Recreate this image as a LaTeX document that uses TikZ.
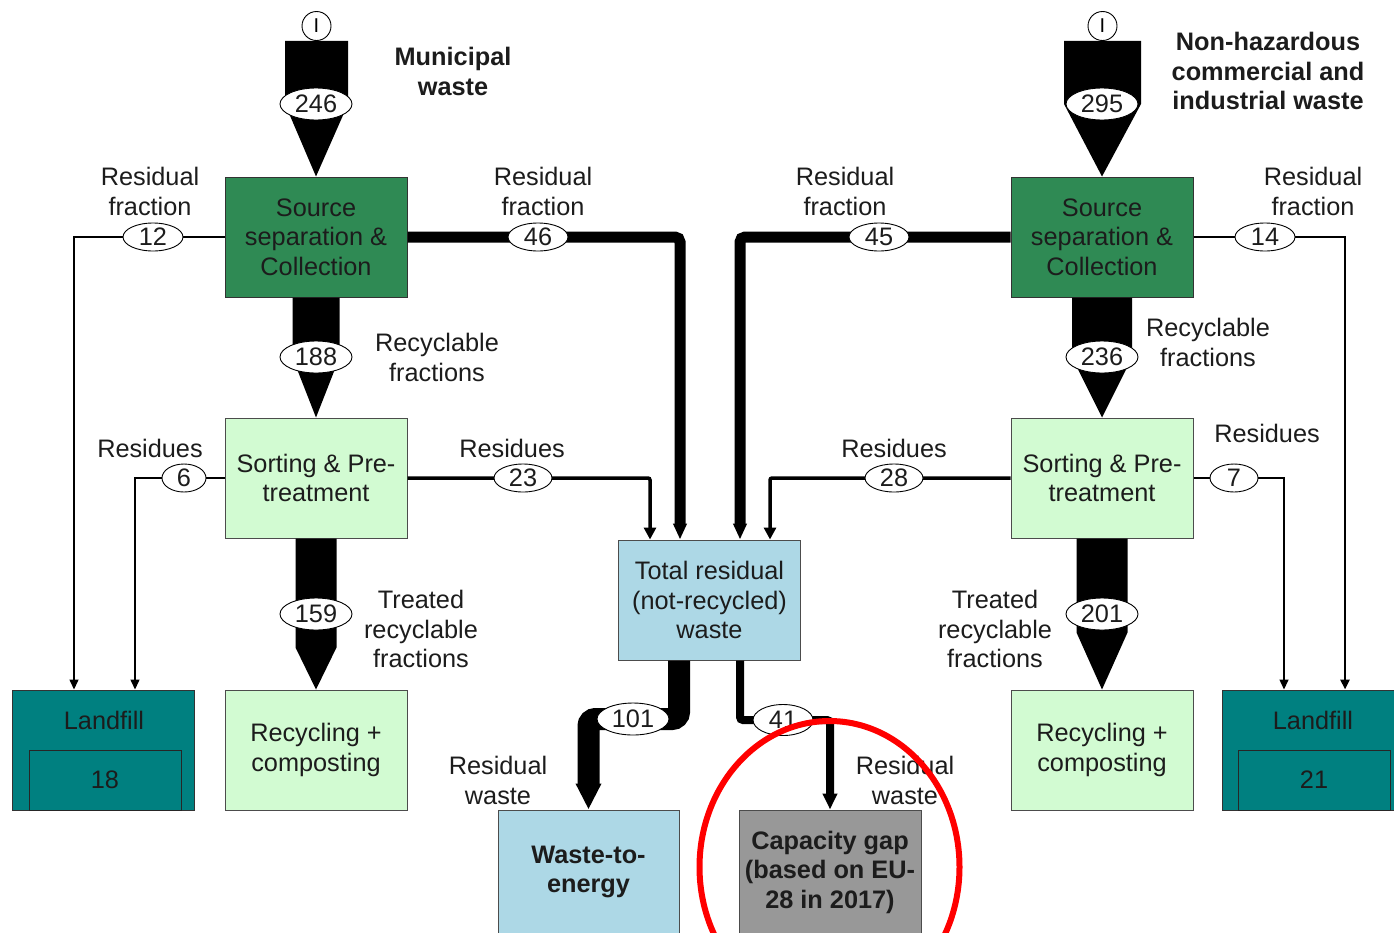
\documentclass[tikz,border=0pt]{standalone}
\usepackage{fontspec}
\setmainfont{Liberation Sans}
\usetikzlibrary{arrows.meta,shapes.geometric,calc}

\definecolor{srcgreen}{RGB}{47,138,84}
\definecolor{palegreen}{RGB}{210,251,210}
\definecolor{paleblue}{RGB}{173,216,230}
\definecolor{landteal}{RGB}{0,128,128}
\definecolor{gapgray}{RGB}{152,152,152}
\definecolor{ink}{RGB}{28,28,28}

\begin{document}
\begin{tikzpicture}[x=1pt,y=-1pt,
  font=\fontsize{25.3}{29.5}\selectfont,
  box/.style={draw=black!70, line width=1pt, minimum width=182pt, minimum height=120pt,
              align=center, inner sep=0pt, text=ink},
  srcbox/.style={box, fill=srcgreen, draw=black!80},
  palebox/.style={box, fill=palegreen},
  bluebox/.style={box, fill=paleblue},
  gapbox/.style={box, fill=gapgray, font=\fontsize{25.3}{29.5}\selectfont\bfseries},
  landbox/.style={box, fill=landteal, draw=black!80},
  innerbox/.style={draw=black!85, line width=1pt, fill=landteal, minimum width=152pt,
              minimum height=60pt, inner sep=0pt, text=ink},
  num/.style={ellipse, draw, line width=0.9pt, fill=white, inner sep=0pt,
              minimum height=28pt, minimum width=#1, text=ink},
  bignum/.style={num=#1, minimum height=32pt},
  lbl/.style={align=center, inner sep=0pt, text=ink},
  ttl/.style={lbl, font=\fontsize{25.3}{29.5}\selectfont\bfseries},
  inmark/.style={circle, draw, line width=0.9pt, fill=white, minimum size=29pt,
              inner sep=0pt, font=\fontsize{20}{20}\selectfont},
  thinflow/.style={line width=1.5pt, -{Triangle[length=10pt,width=9pt]}},
  midflow/.style={line width=3.5pt, rounded corners=2pt, -{Triangle[length=12pt,width=12pt]}},
  thickflow/.style={line width=11pt, rounded corners=5pt, -{Triangle[length=16pt,width=13pt]}},
]
\useasboundingbox (0,0) rectangle (1394,932);

% ---------- boxes ----------
\node[srcbox]  (src1) at (316,237)  {Source\\separation \&\\Collection};
\node[palebox] (sort1) at (316,478) {Sorting \& Pre-\\treatment};
\node[palebox] (rec1) at (316,750)  {Recycling +\\composting};
\node[landbox] (lf1) at (103.5,750) {};
\node[lbl] (lf1t) at (104,720) {Landfill};
\node[innerbox] (lf1n) at (105,780) {18};

\node[srcbox]  (src2) at (1102,237)  {Source\\separation \&\\Collection};
\node[palebox] (sort2) at (1102,478) {Sorting \& Pre-\\treatment};
\node[palebox] (rec2) at (1102,750)  {Recycling +\\composting};
\node[landbox] (lf2) at (1313.5,750) {};
\node[lbl] (lf2t) at (1313,720) {Landfill};
\node[innerbox] (lf2n) at (1314,780) {21};

\node[bluebox] (tot) at (709.5,600) {Total residual\\(not-recycled)\\waste};
\node[bluebox, minimum width=181pt, minimum height=124pt,
      font=\fontsize{25.3}{29.5}\selectfont\bfseries] (wte) at (588.5,872) {Waste-to-\\energy};
\node[gapbox, minimum height=124pt] (cap) at (830,872) {Capacity gap\\(based on EU-\\28 in 2017)};

% ---------- inputs ----------
\node[inmark] (in1) at (316.5,26) {I};
\node[inmark] (in2) at (1102.5,26) {I};
\node[ttl] (t1) at (453,71.5) {Municipal\\waste};
\node[ttl] (t2) at (1268,71) {Non-hazardous\\commercial and\\industrial waste};

% ---------- broad material flows ----------
\fill ($(in1.south)+(-31.5,0)$) -- ($(in1.south)+(31.5,0)$) -- ($(in1.south)+(31.5,63)$)
      -- (src1.north) -- ($(in1.south)+(-31.5,63)$) -- cycle;
\fill ($(src1.south)+(-23.5,0)$) -- ($(src1.south)+(23.5,0)$) -- ($(src1.south)+(23.5,60)$)
      -- (sort1.north) -- ($(src1.south)+(-23.5,60)$) -- cycle;
\fill ($(sort1.south)+(-20.5,0)$) -- ($(sort1.south)+(20.5,0)$) -- ($(sort1.south)+(20.5,109)$)
      -- (rec1.north) -- ($(sort1.south)+(-20.5,109)$) -- cycle;

\fill ($(in2.south)+(-38.5,0)$) -- ($(in2.south)+(38.5,0)$) -- ($(in2.south)+(38.5,63)$)
      -- (src2.north) -- ($(in2.south)+(-38.5,63)$) -- cycle;
\fill ($(src2.south)+(-30,0)$) -- ($(src2.south)+(30,0)$) -- ($(src2.south)+(30,60)$)
      -- (sort2.north) -- ($(src2.south)+(-30,60)$) -- cycle;
\fill ($(sort2.south)+(-25.5,0)$) -- ($(sort2.south)+(25.5,0)$) -- ($(sort2.south)+(25.5,94)$)
      -- (rec2.north) -- ($(sort2.south)+(-25.5,94)$) -- cycle;

% ---------- residual streams ----------
\draw[thinflow] (src1.west) -| ([xshift=-29.5pt]lf1.north);
\draw[thinflow] (sort1.west) -| ([xshift=31.5pt]lf1.north);
\draw[thickflow] (src1.east) -| ([xshift=-29.5pt]tot.north);
\draw[midflow] (sort1.east) -| ([xshift=-59.5pt]tot.north);

\draw[thickflow] (src2.west) -| ([xshift=30.5pt]tot.north);
\draw[midflow] (sort2.west) -| ([xshift=60.5pt]tot.north);
\draw[thinflow, line width=2.5pt] (src2.east) -| ([xshift=31.5pt]lf2.north);
\draw[thinflow] (sort2.east) -| ([xshift=-29.5pt]lf2.north);

% ---------- treatment of residual waste ----------
\coordinate (m101) at (633,719);
\coordinate (m41) at (783,720);
\draw[line width=22pt, rounded corners=7pt, -{Triangle[length=26pt,width=24pt]}]
  ([xshift=-30.5pt]tot.south) |- (m101) -| (wte.north);
\draw[line width=8pt, rounded corners=3pt, -{Triangle[length=16pt,width=14pt]}]
  ([xshift=30.5pt]tot.south) |- (m41) -| (cap.north);

% ---------- quantities ----------
\node[bignum=72pt] (e246) at (316,104) {246};
\node[bignum=72pt] (e188) at (316,357) {188};
\node[bignum=72pt] (e159) at (316,614) {159};
\node[bignum=72pt] (e295) at (1102,104) {295};
\node[bignum=72pt] (e236) at (1102,357) {236};
\node[bignum=72pt] (e201) at (1102,614) {201};
\node[num=60pt] (e12) at (153,237) {12};
\node[num=60pt] (e46) at (538,237) {46};
\node[num=60pt] (e45) at (879,237) {45};
\node[num=60pt] (e14) at (1265,237) {14};
\node[num=44pt] (e6) at (184,478) {6};
\node[num=58pt] (e23) at (523,478) {23};
\node[num=58pt] (e28) at (894,478) {28};
\node[num=48pt] (e7) at (1234,478) {7};
\node[bignum=72pt] (e101) at (m101) {101};
\node[num=60pt, minimum height=31pt] (e41) at (m41) {41};

% ---------- stream labels ----------
\node[lbl] (l1) at (150,191.5) {Residual\\fraction};
\node[lbl] (l2) at (543,191.5) {Residual\\fraction};
\node[lbl] (l3) at (845,191.5) {Residual\\fraction};
\node[lbl] (l4) at (1313,191.5) {Residual\\fraction};
\node[lbl] (l5) at (437,357.5) {Recyclable\\fractions};
\node[lbl] (l6) at (1208,342.5) {Recyclable\\fractions};
\node[lbl] (l7) at (150,448) {Residues};
\node[lbl] (l8) at (512,448) {Residues};
\node[lbl] (l9) at (894,448) {Residues};
\node[lbl] (l10) at (1267,433) {Residues};
\node[lbl] (l11) at (421,629) {Treated\\recyclable\\fractions};
\node[lbl] (l12) at (995,629) {Treated\\recyclable\\fractions};
\node[lbl] (l13) at (498,780.5) {Residual\\waste};
\node[lbl] (l14) at (905,780.5) {Residual\\waste};

% ---------- highlight ----------
\draw[red, line width=6pt] (829.5,867) ellipse [x radius=130pt, y radius=146pt];
\end{tikzpicture}
\end{document}
